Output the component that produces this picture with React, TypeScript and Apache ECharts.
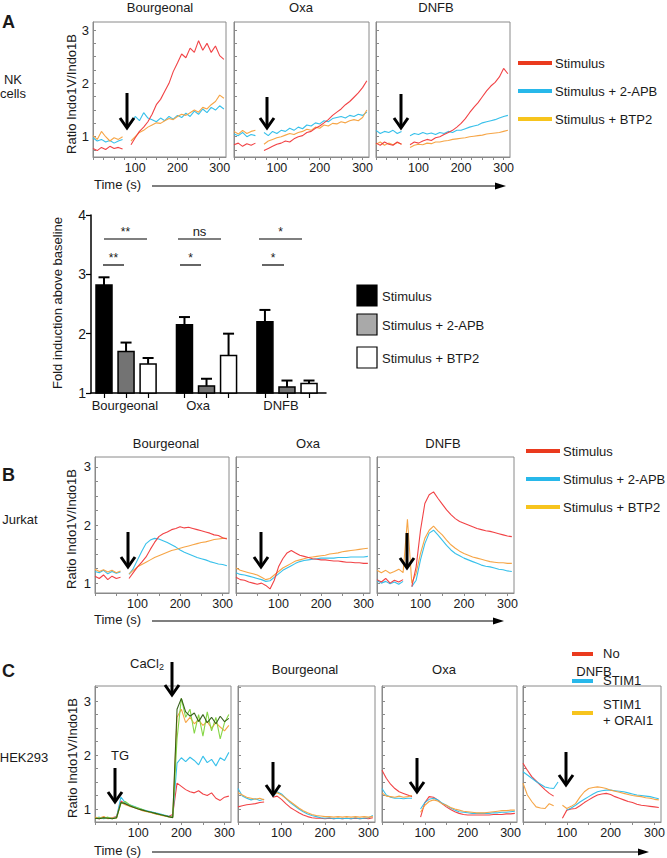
import React, { useEffect, useRef } from "react";
import * as echarts from "echarts";

// ---------- time grid (s) ----------
const T = [0, 10, 20, 30, 40, 50, 60, 70, 80, 90, 100, 110, 120, 130, 140, 150, 160, 170, 180, 190, 200, 210, 220, 230, 240, 250, 260, 270, 280, 290, 300, 310];

// ---------- Panel A : NK cells ----------
const A_BOURG_STIM = [0.78, 0.74, 0.80, 0.76, 0.82, 0.78, 0.80, 0.77, null, 0.85, 0.98, 1.10, 1.18, 1.28, 1.42, 1.60, 1.70, 1.85, 2.00, 2.22, 2.38, 2.55, 2.48, 2.66, 2.58, 2.80, 2.62, 2.75, 2.58, 2.70, 2.52, 2.45];
const A_BOURG_APB = [0.98, 0.92, 0.95, 0.90, 0.93, 0.88, 0.92, 0.95, null, 1.25, 1.38, 1.30, 1.45, 1.35, 1.32, 1.28, 1.35, 1.30, 1.38, 1.33, 1.40, 1.36, 1.44, 1.38, 1.48, 1.42, 1.52, 1.45, 1.55, 1.50, 1.58, 1.52];
const A_BOURG_BTP2 = [1.02, 0.95, 1.10, 1.00, 0.92, 0.98, 0.95, 1.00, null, 0.92, 1.00, 1.08, 1.12, 1.18, 1.22, 1.26, 1.25, 1.30, 1.34, 1.32, 1.38, 1.42, 1.40, 1.45, 1.50, 1.46, 1.55, 1.52, 1.60, 1.66, 1.78, 1.72];
const A_OXA_STIM = [0.85, 0.88, 0.82, 0.87, 0.84, 0.88, null, 0.74, 0.78, 0.82, 0.86, 0.88, 0.92, 0.90, 0.96, 1.00, 1.02, 1.08, 1.10, 1.16, 1.20, 1.26, 1.32, 1.40, 1.46, 1.52, 1.60, 1.66, 1.74, 1.82, 1.92, 2.05];
const A_OXA_APB = [1.05, 1.02, 1.08, 1.00, 1.04, 1.02, null, 1.08, 1.02, 1.10, 1.06, 1.12, 1.10, 1.16, 1.12, 1.18, 1.15, 1.22, 1.20, 1.26, 1.24, 1.30, 1.28, 1.34, 1.36, 1.38, 1.35, 1.40, 1.38, 1.42, 1.40, 1.46];
const A_OXA_BTP2 = [1.10, 1.05, 1.12, 1.06, 1.10, 1.12, null, 0.86, 0.92, 0.95, 0.98, 1.00, 1.03, 1.06, 1.04, 1.08, 1.10, 1.14, 1.12, 1.18, 1.16, 1.22, 1.20, 1.25, 1.24, 1.28, 1.26, 1.30, 1.32, 1.30, 1.36, 1.50];
const A_DNFB_STIM = [0.88, 0.84, 0.90, 0.86, 0.84, 0.90, 0.86, null, 0.85, 0.90, 0.88, 0.92, 0.95, 0.93, 0.98, 1.00, 1.04, 1.08, 1.12, 1.18, 1.25, 1.34, 1.45, 1.55, 1.64, 1.75, 1.86, 1.95, 2.02, 2.12, 2.28, 2.18];
const A_DNFB_APB = [1.12, 1.06, 1.10, 1.08, 1.12, 1.06, 1.10, null, 1.02, 1.06, 1.04, 1.08, 1.05, 1.07, 1.04, 1.08, 1.06, 1.10, 1.08, 1.12, 1.12, 1.15, 1.18, 1.20, 1.22, 1.26, 1.28, 1.30, 1.32, 1.35, 1.38, 1.40];
const A_DNFB_BTP2 = [0.86, 0.90, 0.84, 0.88, 0.85, 0.89, 0.86, null, 0.80, 0.84, 0.86, 0.85, 0.88, 0.87, 0.90, 0.90, 0.92, 0.93, 0.95, 0.96, 0.97, 0.98, 1.00, 1.01, 1.02, 1.03, 1.05, 1.06, 1.07, 1.08, 1.10, 1.12];

// ---------- Panel A : bar chart ----------
const BAR_GROUPS = ["Bourgeonal", "Oxa", "DNFB"];
const BAR_SERIES = ["Stimulus", "Stimulus + 2-APB", "Stimulus + BTP2"];
const STIM_MEAN = [2.82, 2.15, 2.20];
const STIM_SEM = [0.13, 0.13, 0.20];
const APB_MEAN = [1.70, 1.12, 1.10];
const APB_SEM = [0.15, 0.12, 0.11];
const BTP2_MEAN = [1.49, 1.63, 1.16];
const BTP2_SEM = [0.10, 0.37, 0.05];
const SIG_TOP = ["**", "ns", "*"];
const SIG_LOW = ["**", "*", "*"];

// ---------- Panel B : Jurkat ----------
const B_BOURG_STIM = [1.12, 1.08, 1.14, 1.06, 1.12, 1.08, 1.10, null, 1.08, 1.18, 1.28, 1.36, 1.45, 1.58, 1.70, 1.80, 1.85, 1.88, 1.92, 1.94, 1.97, 1.95, 1.96, 1.94, 1.92, 1.90, 1.88, 1.86, 1.83, 1.82, 1.78, 1.76];
const B_BOURG_APB = [1.20, 1.18, 1.22, 1.16, 1.20, 1.17, 1.19, null, 1.15, 1.25, 1.40, 1.55, 1.68, 1.74, 1.77, 1.76, 1.73, 1.70, 1.66, 1.62, 1.57, 1.53, 1.50, 1.47, 1.44, 1.42, 1.40, 1.37, 1.35, 1.33, 1.32, 1.30];
const B_BOURG_BTP2 = [1.24, 1.20, 1.23, 1.19, 1.22, 1.18, 1.21, null, 1.16, 1.22, 1.28, 1.32, 1.36, 1.40, 1.44, 1.47, 1.50, 1.53, 1.56, 1.58, 1.60, 1.62, 1.64, 1.66, 1.68, 1.70, 1.71, 1.73, 1.75, 1.76, 1.77, 1.77];
const B_OXA_STIM = [1.10, 1.06, 1.05, 1.02, 1.00, 0.98, 1.00, 0.96, 0.90, 1.05, 1.28, 1.42, 1.52, 1.56, 1.52, 1.48, 1.46, 1.44, 1.42, 1.41, 1.40, 1.40, 1.39, 1.38, 1.38, 1.37, 1.36, 1.36, 1.35, 1.35, 1.34, 1.34];
const B_OXA_APB = [1.18, 1.15, 1.14, 1.12, 1.10, 1.08, 1.06, 1.03, 1.04, 1.10, 1.16, 1.22, 1.26, 1.30, 1.34, 1.37, 1.39, 1.40, 1.41, 1.42, 1.43, 1.43, 1.43, 1.43, 1.44, 1.44, 1.44, 1.45, 1.45, 1.45, 1.45, 1.46];
const B_OXA_BTP2 = [1.26, 1.22, 1.20, 1.18, 1.16, 1.14, 1.10, 1.06, 1.08, 1.14, 1.20, 1.26, 1.30, 1.34, 1.38, 1.40, 1.42, 1.44, 1.45, 1.46, 1.47, 1.48, 1.50, 1.51, 1.52, 1.54, 1.55, 1.56, 1.57, 1.58, 1.59, 1.60];
const B_DNFB_STIM = [1.06, 1.02, 1.08, 1.00, 1.05, 1.02, 1.06, null, 0.94, 1.28, 1.91, 2.37, 2.52, 2.57, 2.46, 2.36, 2.26, 2.18, 2.11, 2.06, 2.03, 2.00, 1.97, 1.94, 1.92, 1.90, 1.89, 1.87, 1.85, 1.83, 1.81, 1.80];
const B_DNFB_APB = [1.04, 1.00, 1.03, 0.99, 1.02, 0.98, 1.03, null, 0.94, 1.05, 1.40, 1.68, 1.86, 1.91, 1.83, 1.74, 1.65, 1.57, 1.51, 1.47, 1.43, 1.40, 1.37, 1.34, 1.31, 1.29, 1.28, 1.26, 1.24, 1.23, 1.21, 1.20];
const B_DNFB_BTP2 = [1.22, 1.18, 1.22, 1.17, 1.20, 1.24, 1.18, 2.10, 1.00, 1.17, 1.51, 1.77, 1.91, 1.98, 1.90, 1.83, 1.74, 1.66, 1.60, 1.55, 1.51, 1.48, 1.45, 1.43, 1.41, 1.39, 1.37, 1.36, 1.35, 1.35, 1.34, 1.34];

// ---------- Panel C : HEK293 ----------
const C_CA_NO = [0.84, 0.82, 0.85, 0.83, 0.84, 0.86, 1.15, 1.10, 1.06, 1.04, 1.01, 0.98, 0.96, 0.94, 0.92, 0.90, 0.88, 0.86, 0.90, 1.48, 1.42, 1.36, 1.32, 1.30, 1.34, 1.28, 1.25, 1.30, 1.20, 1.16, 1.22, 1.24];
const C_CA_STIM1 = [0.83, 0.85, 0.82, 0.84, 0.83, 0.85, 1.22, 1.12, 1.08, 1.05, 1.02, 0.99, 0.97, 0.95, 0.93, 0.91, 0.89, 0.87, 0.86, 1.85, 1.95, 1.88, 1.96, 1.90, 1.82, 1.98, 1.86, 1.92, 1.80, 1.95, 1.90, 2.05];
const C_CA_ORAI = [0.85, 0.83, 0.86, 0.82, 0.84, 0.83, 1.12, 1.08, 1.05, 1.03, 1.00, 0.97, 0.95, 0.93, 0.91, 0.89, 0.87, 0.86, 0.85, 2.70, 2.85, 2.60, 2.70, 2.58, 2.65, 2.55, 2.62, 2.50, 2.60, 2.52, 2.45, 2.55];
const C_CA_LGREEN = [0.82, 0.84, 0.83, 0.85, 0.82, 0.84, 1.10, 1.14, 1.08, 1.04, 1.02, 0.99, 0.96, 0.94, 0.92, 0.90, 0.88, 0.86, 0.85, 2.30, 3.05, 2.70, 2.85, 2.40, 2.75, 2.35, 2.80, 2.45, 2.70, 2.30, 2.60, 2.75];
const C_CA_DGREEN = [0.83, 0.82, 0.84, 0.83, 0.82, 0.84, 1.12, 1.10, 1.06, 1.03, 1.00, 0.98, 0.96, 0.94, 0.92, 0.90, 0.88, 0.86, 0.84, 2.85, 3.05, 2.80, 2.72, 2.78, 2.62, 2.75, 2.60, 2.70, 2.58, 2.72, 2.62, 2.68];
const C_BOURG_NO = [1.04, 1.06, 1.08, 1.09, 1.10, 1.12, 1.13, null, 1.22, 1.24, 1.18, 1.10, 1.03, 0.98, 0.93, 0.89, 0.86, 0.84, 0.83, 0.83, 0.82, 0.83, 0.82, 0.83, 0.82, 0.83, 0.82, 0.83, 0.82, 0.83, 0.82, 0.84];
const C_BOURG_STIM1 = [1.38, 1.24, 1.20, 1.17, 1.19, 1.16, 1.18, null, 1.23, 1.32, 1.28, 1.20, 1.12, 1.06, 1.00, 0.95, 0.91, 0.88, 0.86, 0.84, 0.83, 0.84, 0.82, 0.83, 0.82, 0.83, 0.82, 0.84, 0.82, 0.83, 0.84, 0.88];
const C_BOURG_ORAI = [1.30, 1.26, 1.22, 1.20, 1.18, 1.20, 1.17, null, 1.28, 1.30, 1.26, 1.20, 1.14, 1.08, 1.02, 0.97, 0.93, 0.90, 0.88, 0.87, 0.86, 0.86, 0.85, 0.86, 0.85, 0.86, 0.85, 0.86, 0.85, 0.86, 0.85, 0.86];
const C_OXA_NO = [1.72, 1.57, 1.46, 1.38, 1.32, 1.29, 1.26, 1.23, null, 0.85, 1.12, 1.23, 1.22, 1.17, 1.10, 1.04, 0.99, 0.95, 0.92, 0.90, 0.89, 0.89, 0.89, 0.89, 0.89, 0.89, 0.90, 0.90, 0.90, 0.91, 0.91, 0.92];
const C_OXA_STIM1 = [1.38, 1.26, 1.22, 1.20, 1.20, 1.19, 1.20, 1.20, null, 1.00, 1.12, 1.18, 1.20, 1.17, 1.11, 1.07, 1.02, 0.98, 0.95, 0.94, 0.93, 0.92, 0.92, 0.92, 0.92, 0.92, 0.93, 0.93, 0.94, 0.94, 0.95, 0.96];
const C_OXA_ORAI = [1.30, 1.24, 1.23, 1.22, 1.24, 1.22, 1.23, 1.25, null, 0.94, 1.07, 1.14, 1.17, 1.15, 1.10, 1.07, 1.03, 1.00, 0.98, 0.96, 0.95, 0.94, 0.93, 0.93, 0.93, 0.94, 0.95, 0.96, 0.97, 0.97, 0.98, 0.98];
const C_DNFB_NO = [1.85, 1.72, 1.60, 1.52, 1.44, 1.36, 1.29, 1.24, null, 0.83, 0.98, 1.00, 1.01, 1.06, 1.12, 1.17, 1.22, 1.26, 1.28, 1.29, 1.27, 1.23, 1.20, 1.17, 1.14, 1.12, 1.09, 1.07, 1.06, 1.05, 1.04, 1.03];
const C_DNFB_STIM1 = [1.69, 1.63, 1.57, 1.51, 1.46, 1.41, 1.39, 1.38, 1.50, null, 0.98, 1.02, 1.07, 1.13, 1.18, 1.23, 1.28, 1.32, 1.34, 1.35, 1.35, 1.34, 1.33, 1.32, 1.30, 1.28, 1.26, 1.25, 1.24, 1.23, 1.21, 1.19];
const C_DNFB_ORAI = [1.48, 1.26, 1.14, 1.04, 1.02, 1.01, 1.10, 1.06, null, 1.07, 1.01, 1.05, 1.10, 1.22, 1.32, 1.38, 1.40, 1.41, 1.40, 1.38, 1.35, 1.33, 1.31, 1.29, 1.27, 1.25, 1.24, 1.23, 1.21, 1.20, 1.18, 1.17];

// ---------- tick values ----------
const X_LABELS = [100, 200, 300];
const X_TICKS_A = [0, 25, 50, 75, 100, 125, 150, 175, 200, 225, 250, 275, 300];
const X_TICKS_BC = [0, 50, 100, 150, 200, 250, 300];
const Y_LABELS = [1, 2, 3];
const Y_TICKS = [0.75, 1, 1.25, 1.5, 1.75, 2, 2.25, 2.5, 2.75, 3, 3.25];
const BAR_Y_TICKS = [1, 2, 3, 4];

// ---------- styles ----------
const FONT = "'Liberation Sans', Arial, Helvetica, sans-serif";
const RED = "#f0383b";
const CYAN = "#2cbde9";
const ORANGE = "#f5a03c";
const LGREEN = "#7fd43c";
const DGREEN = "#2e5a12";
const LEG_RED = "#ea3a1e";
const LEG_CYAN = "#28b8ea";
const LEG_YEL = "#f7c41d";
const BOX = "#8a8a8a";
const TXT = "#1a1a1a";

type Tr = [(number | null)[], string];
interface LG { left: number; top: number; width: number; height: number; min: number; max: number; labels: boolean; xt: number[]; traces: Tr[]; }

const LINE_GRIDS: LG[] = [
  { left: 93, top: 22, width: 133, height: 135, min: 0.62, max: 3.15, labels: true, xt: X_TICKS_A, traces: [[A_BOURG_APB, CYAN], [A_BOURG_BTP2, ORANGE], [A_BOURG_STIM, RED]] },
  { left: 234, top: 22, width: 135, height: 135, min: 0.62, max: 3.15, labels: false, xt: X_TICKS_A, traces: [[A_OXA_APB, CYAN], [A_OXA_BTP2, ORANGE], [A_OXA_STIM, RED]] },
  { left: 376, top: 22, width: 134, height: 135, min: 0.62, max: 3.15, labels: false, xt: X_TICKS_A, traces: [[A_DNFB_APB, CYAN], [A_DNFB_BTP2, ORANGE], [A_DNFB_STIM, RED]] },
  { left: 95, top: 457, width: 134, height: 136, min: 0.83, max: 3.17, labels: true, xt: X_TICKS_BC, traces: [[B_BOURG_APB, CYAN], [B_BOURG_BTP2, ORANGE], [B_BOURG_STIM, RED]] },
  { left: 236, top: 457, width: 134, height: 136, min: 0.83, max: 3.17, labels: false, xt: X_TICKS_BC, traces: [[B_OXA_APB, CYAN], [B_OXA_BTP2, ORANGE], [B_OXA_STIM, RED]] },
  { left: 377, top: 457, width: 137, height: 136, min: 0.83, max: 3.17, labels: false, xt: X_TICKS_BC, traces: [[B_DNFB_APB, CYAN], [B_DNFB_BTP2, ORANGE], [B_DNFB_STIM, RED]] },
  { left: 95, top: 686, width: 136, height: 136, min: 0.76, max: 3.28, labels: true, xt: X_TICKS_BC, traces: [[C_CA_NO, RED], [C_CA_STIM1, CYAN], [C_CA_ORAI, ORANGE], [C_CA_LGREEN, LGREEN], [C_CA_DGREEN, DGREEN]] },
  { left: 238, top: 686, width: 137, height: 136, min: 0.76, max: 3.28, labels: false, xt: X_TICKS_BC, traces: [[C_BOURG_NO, RED], [C_BOURG_STIM1, CYAN], [C_BOURG_ORAI, ORANGE]] },
  { left: 382, top: 686, width: 135, height: 136, min: 0.76, max: 3.28, labels: false, xt: X_TICKS_BC, traces: [[C_OXA_NO, RED], [C_OXA_STIM1, CYAN], [C_OXA_ORAI, ORANGE]] },
  { left: 523, top: 686, width: 138, height: 136, min: 0.76, max: 3.28, labels: false, xt: X_TICKS_BC, traces: [[C_DNFB_NO, RED], [C_DNFB_STIM1, CYAN], [C_DNFB_ORAI, ORANGE]] },
];

// bar layout (positions on a numeric x axis)
const GROUP_STEP = 3.65;
const BAR_LABEL_POS = [0.95, 4.27, 8.03];
const BAR_PX = 16;

function txt(text: string, x: number, y: number, opts: any = {}) {
  return {
    type: "text", x, y, silent: true, rotation: opts.rotation || 0, z: 50,
    style: {
      text, fill: opts.fill || TXT, fontSize: opts.size || 13, fontFamily: FONT,
      fontWeight: opts.bold ? "bold" : "normal",
      align: opts.align || "center", verticalAlign: opts.valign || "middle",
      rich: opts.rich,
    },
  };
}
function hline(x1: number, x2: number, y: number, color = "#000", w = 1.2) {
  return { type: "line", silent: true, z: 50, shape: { x1, y1: y, x2, y2: y }, style: { stroke: color, lineWidth: w } };
}
function downArrow(x: number, y1: number, y2: number) {
  return [
    { type: "line", silent: true, z: 60, shape: { x1: x, y1, x2: x, y2: y2 - 1.5 }, style: { stroke: "#000", lineWidth: 3 } },
    { type: "polyline", silent: true, z: 60, shape: { points: [[x - 7, y2 - 10], [x, y2], [x + 7, y2 - 10]] }, style: { stroke: "#000", lineWidth: 3, fill: null, lineJoin: "miter" } },
  ];
}
function timeArrow(y: number, x1: number, x2: number) {
  return [
    txt("Time (s)", 94, y - 2, { align: "left" }),
    hline(x1, x2 - 6, y, "#000", 1.2),
    { type: "polygon", silent: true, z: 50, shape: { points: [[x2 - 11, y - 3.5], [x2, y], [x2 - 11, y + 3.5]] }, style: { fill: "#000" } },
  ];
}
function legendLines(x1: number, x2: number, items: [string, string, number][]) {
  const out: any[] = [];
  items.forEach(([label, color, y]) => {
    out.push(hline(x1, x2, y, color, 4));
    out.push(txt(label, x2 + 3, y, { align: "left" }));
  });
  return out;
}

function buildOption() {
  const grids: any[] = [];
  const xAxes: any[] = [];
  const yAxes: any[] = [];
  const series: any[] = [];

  LINE_GRIDS.forEach((g, gi) => {
    grids.push({ left: g.left, top: g.top, width: g.width, height: g.height, show: true, borderColor: BOX, borderWidth: 1, backgroundColor: "transparent", containLabel: false, outerBoundsMode: "none" });
    xAxes.push({
      type: "value", gridIndex: gi, min: 0, max: 315,
      axisLine: { show: true, lineStyle: { color: BOX, width: 1 } },
      splitLine: { show: false },
      axisTick: { show: true, inside: false, length: 3, lineStyle: { color: BOX }, customValues: g.xt },
      axisLabel: { show: true, customValues: X_LABELS, fontSize: 12.5, fontFamily: FONT, color: TXT, margin: 4 },
    });
    yAxes.push({
      type: "value", gridIndex: gi, min: g.min, max: g.max,
      axisLine: { show: true, lineStyle: { color: BOX, width: 1 } },
      splitLine: { show: false },
      axisTick: { show: true, inside: true, length: 3, lineStyle: { color: BOX }, customValues: Y_TICKS.filter((v) => v > g.min && v < g.max) },
      axisLabel: { show: g.labels, customValues: Y_LABELS, fontSize: 13, fontFamily: FONT, color: TXT, margin: 4 },
    });
    g.traces.forEach(([vals, color]) => {
      series.push({
        type: "line", xAxisIndex: gi, yAxisIndex: gi, silent: true, showSymbol: false, symbol: "none",
        connectNulls: false, clip: true, animation: false,
        lineStyle: { color, width: 1.1, opacity: 0.95 },
        data: T.map((t, i) => [t, vals[i] === null ? "-" : vals[i]]),
      });
    });
  });

  // bar chart grid
  const bg = LINE_GRIDS.length;
  grids.push({ left: 91, top: 215, width: 235, height: 178, show: false, containLabel: false, outerBoundsMode: "none" });
  const barPos = (gIdx: number, bIdx: number) => gIdx * GROUP_STEP + bIdx;
  const allBarPos: number[] = [];
  BAR_GROUPS.forEach((_, gIdx) => [0, 1, 2].forEach((b) => allBarPos.push(barPos(gIdx, b))));
  xAxes.push({
    type: "value", gridIndex: bg, min: -0.59, max: 10.07,
    axisLine: { show: true, onZero: false, lineStyle: { color: "#000", width: 1.5 } },
    splitLine: { show: false },
    axisTick: { show: true, length: 5, lineStyle: { color: "#000", width: 1.2 }, customValues: allBarPos },
    axisLabel: {
      show: true, customValues: BAR_LABEL_POS, fontSize: 13, fontFamily: FONT, color: TXT, margin: 6,
      formatter: (v: number) => {
        let best = 0;
        BAR_LABEL_POS.forEach((p, i) => { if (Math.abs(p - v) < Math.abs(BAR_LABEL_POS[best] - v)) best = i; });
        return BAR_GROUPS[best];
      },
    },
  });
  yAxes.push({
    type: "value", gridIndex: bg, min: 1, max: 4, interval: 1,
    axisLine: { show: true, onZero: false, lineStyle: { color: "#000", width: 1.5 } },
    splitLine: { show: false },
    axisTick: { show: true, length: 5, lineStyle: { color: "#000", width: 1.2 }, customValues: BAR_Y_TICKS },
    axisLabel: { show: true, customValues: BAR_Y_TICKS, fontSize: 14, fontFamily: FONT, color: TXT, margin: 5 },
  });
  const barDefs = [
    { name: BAR_SERIES[0], mean: STIM_MEAN, sem: STIM_SEM, color: "#000000" },
    { name: BAR_SERIES[1], mean: APB_MEAN, sem: APB_SEM, color: "#737373" },
    { name: BAR_SERIES[2], mean: BTP2_MEAN, sem: BTP2_SEM, color: "#ffffff" },
  ];
  barDefs.forEach((d, b) => {
    series.push({
      type: "custom", name: d.name, xAxisIndex: bg, yAxisIndex: bg, silent: true, z: 3,
      encode: { x: 0, y: 1 },
      data: d.mean.map((m, gIdx) => [barPos(gIdx, b), m, d.sem[gIdx]]),
      renderItem: (_p: any, api: any) => {
        const x = api.value(0), m = api.value(1), s = api.value(2);
        const base = api.coord([x, 1]);
        const top = api.coord([x, m]);
        const err = api.coord([x, m + s]);
        const half = BAR_PX / 2;
        return {
          type: "group",
          children: [
            { type: "line", shape: { x1: top[0], y1: top[1], x2: err[0], y2: err[1] }, style: { stroke: "#000", lineWidth: 2 } },
            { type: "line", shape: { x1: err[0] - 5.5, y1: err[1], x2: err[0] + 5.5, y2: err[1] }, style: { stroke: "#000", lineWidth: 2 } },
            { type: "rect", shape: { x: top[0] - half, y: top[1], width: BAR_PX, height: base[1] - top[1] }, style: { fill: d.color, stroke: "#000", lineWidth: 1.5 } },
          ],
        };
      },
    });
  });

  // ---------- annotations ----------
  const gfx: any[] = [];
  gfx.push(txt("A", 2, 22, { align: "left", bold: true, size: 18 }));
  gfx.push(txt("B", 2, 475, { align: "left", bold: true, size: 18 }));
  gfx.push(txt("C", 2, 671, { align: "left", bold: true, size: 18 }));
  gfx.push(txt("NK", 13, 79));
  gfx.push(txt("cells", 13, 93));
  gfx.push(txt("Jurkat", 20, 519));
  gfx.push(txt("HEK293", 24, 757));
  gfx.push(txt("Bourgeonal", 160, 7), txt("Oxa", 301, 7), txt("DNFB", 436, 7));
  gfx.push(txt("Bourgeonal", 166, 443), txt("Oxa", 308, 443), txt("DNFB", 443, 443));
  gfx.push(txt("Bourgeonal", 305, 669), txt("Oxa", 444, 669), txt("DNFB", 594, 671));
  gfx.push(txt("Ratio Indo1V/Indo1B", 71, 94, { rotation: Math.PI / 2 }));
  gfx.push(txt("Ratio Indo1V/Indo1B", 71, 529, { rotation: Math.PI / 2 }));
  gfx.push(txt("Ratio Indo1V/Indo1B", 72, 758, { rotation: Math.PI / 2 }));
  gfx.push(txt("Fold induction above baseline", 57, 303, { rotation: Math.PI / 2 }));
  gfx.push(...timeArrow(186, 152, 506));
  gfx.push(...timeArrow(621, 152, 504));
  gfx.push(...timeArrow(852, 152, 649));
  gfx.push(...downArrow(127, 93, 128), ...downArrow(267, 97, 128), ...downArrow(401, 94, 128));
  gfx.push(...downArrow(128, 532, 567), ...downArrow(261, 532, 567), ...downArrow(407, 533, 568));
  gfx.push(...downArrow(115, 768, 802), ...downArrow(172, 662, 695), ...downArrow(273, 762, 795), ...downArrow(417, 758, 792), ...downArrow(566, 752, 785));
  gfx.push(txt("TG", 120, 755, { size: 13 }));
  gfx.push(txt("{a|CaCl}{b|2}", 130, 663, {
    align: "left",
    rich: { a: { fontSize: 13, fontFamily: FONT, fill: TXT }, b: { fontSize: 9, fontFamily: FONT, fill: TXT, padding: [7, 0, 0, 0] } },
  }));
  gfx.push(...legendLines(518, 552, [["Stimulus", LEG_RED, 63], ["Stimulus + 2-APB", LEG_CYAN, 91], ["Stimulus + BTP2", LEG_YEL, 119]]));
  gfx.push(...legendLines(526, 560, [["Stimulus", LEG_RED, 451], ["Stimulus + 2-APB", LEG_CYAN, 479], ["Stimulus + BTP2", LEG_YEL, 507]]));
  gfx.push(hline(572, 593, 654, LEG_RED, 4), txt("No", 603, 653, { align: "left" }));
  gfx.push(hline(572, 593, 681, LEG_CYAN, 4), txt("STIM1", 603, 680, { align: "left" }));
  gfx.push(hline(572, 593, 713, LEG_YEL, 4), txt("STIM1", 603, 704, { align: "left" }), txt("+ ORAI1", 603, 720, { align: "left" }));
  const barLegY = [296, 325, 358];
  const barLegFill = ["#000000", "#a9a9a9", "#ffffff"];
  BAR_SERIES.forEach((name, i) => {
    gfx.push({ type: "rect", silent: true, z: 50, shape: { x: 357, y: barLegY[i] - 11, width: 20, height: 21 }, style: { fill: barLegFill[i], stroke: "#000", lineWidth: 1.2 } });
    gfx.push(txt(name, 382, barLegY[i], { align: "left" }));
  });
  const sigTopX = [[104, 147], [178, 221], [259, 302]];
  const sigLowX = [[103, 124], [180, 201], [262, 284]];
  SIG_TOP.forEach((s, i) => {
    gfx.push(hline(sigTopX[i][0], sigTopX[i][1], 239, "#000", 1.2));
    gfx.push(txt(s, (sigTopX[i][0] + sigTopX[i][1]) / 2, s === "ns" ? 231 : 232, { size: s === "ns" ? 13 : 12 }));
  });
  SIG_LOW.forEach((s, i) => {
    gfx.push(hline(sigLowX[i][0], sigLowX[i][1], 265, "#000", 1.2));
    gfx.push(txt(s, (sigLowX[i][0] + sigLowX[i][1]) / 2, 258, { size: 12 }));
  });

  return {
    animation: false,
    backgroundColor: "#ffffff",
    textStyle: { fontFamily: FONT },
    grid: grids,
    xAxis: xAxes,
    yAxis: yAxes,
    series,
    graphic: { elements: gfx },
  };
}

export default function App() {
  const ref = useRef<HTMLDivElement>(null);
  useEffect(() => {
    if (!ref.current) return;
    const chart = echarts.init(ref.current, null, { renderer: "svg", width: 667, height: 858 });
    chart.setOption(buildOption() as any);
    return () => chart.dispose();
  }, []);
  return <div ref={ref} style={{ position: "absolute", left: 0, top: 0, width: 667, height: 858, background: "#fff" }} />;
}
